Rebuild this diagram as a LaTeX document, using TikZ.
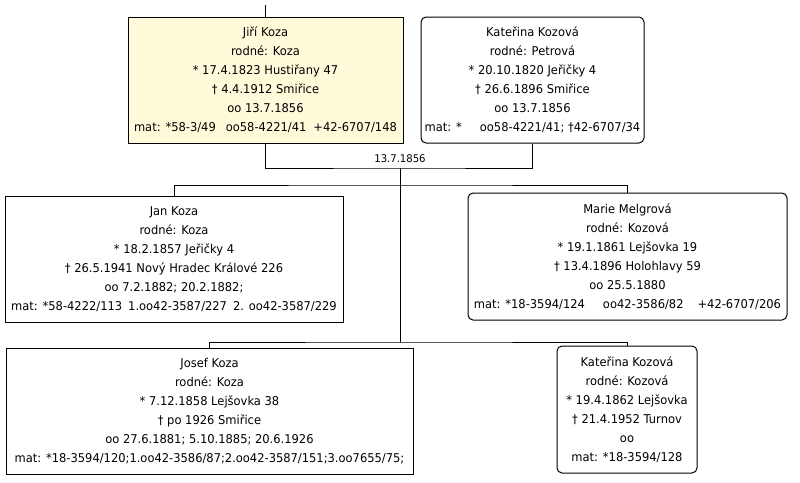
\documentclass[tikz,border=0pt]{standalone}
\usepackage{fontspec}
\setmainfont{DejaVu Sans}[FakeStretch=0.95]
\definecolor{boxyellow}{RGB}{255,251,218}
\newcommand\hgap[1]{\hspace{#1pt}}
\begin{document}
\begin{tikzpicture}[x=1pt,y=-1pt,
  box/.style={draw=black, line width=1pt, inner sep=0pt, align=center,
    font=\fontsize{12.1}{19}\selectfont, text=black},
  roundbox/.style={box, rounded corners=5pt},
  conn/.style={line width=1pt, draw=black},
  lbl/.style={font=\fontsize{10.6}{12}\selectfont, inner sep=0pt, text=black}]
\useasboundingbox (0,0) rectangle (800,482);
\fill[white] (0,0) rectangle (800,482);

\node[box, fill=boxyellow, minimum width=275pt, minimum height=126pt] (jiri) at (265.5,80)
 {Jiří Koza\\ rodné: Koza\\ * 17.4.1823 Hustiřany 47\\ † 4.4.1912 Smiřice\\ oo 13.7.1856\\
  mat: *58-3/49\hgap{10}oo58-4221/41\hgap{7}+42-6707/148};

\node[roundbox, minimum width=223pt, minimum height=126pt] (kat) at (532.5,80)
 {Kateřina Kozová\\ rodné: Petrová\\ * 20.10.1820 Jeřičky 4\\ † 26.6.1896 Smiřice\\ oo 13.7.1856\\
  mat: *\hgap{18}oo58-4221/41; †42-6707/34};

\node[box, minimum width=338pt, minimum height=126pt] (jan) at (174,259)
 {Jan Koza\\ rodné: Koza\\ * 18.2.1857 Jeřičky 4\\ † 26.5.1941 Nový Hradec Králové 226\\ oo 7.2.1882; 20.2.1882;\\
  mat: *58-4222/113\hgap{6}1.oo42-3587/227\hgap{6}2. oo42-3587/229};

\node[roundbox, minimum width=319pt, minimum height=127pt] (marie) at (627.5,256.5)
 {Marie Melgrová\\ rodné: Kozová\\ * 19.1.1861 Lejšovka 19\\ † 13.4.1896 Holohlavy 59\\ oo 25.5.1880\\
  mat: *18-3594/124\hgap{18}oo42-3586/82\hgap{14}+42-6707/206};

\node[box, minimum width=407pt, minimum height=126pt] (josef) at (209.5,411)
 {Josef Koza\\ rodné: Koza\\ * 7.12.1858 Lejšovka 38\\ † po 1926 Smiřice\\ oo 27.6.1881; 5.10.1885; 20.6.1926\\
  mat: *18-3594/120;1.oo42-3586/87;2.oo42-3587/151;3.oo7655/75;};

\node[roundbox, minimum width=140pt, minimum height=127pt] (kat2) at (627,409.5)
 {Kateřina Kozová\\ rodné: Kozová\\ * 19.4.1862 Lejšovka\\ † 21.4.1952 Turnov\\ oo\\
  mat: *18-3594/128};

\coordinate (top) at (265.5,5);
\coordinate (m) at (400,168);
\coordinate (c1) at (400,185);
\coordinate (c2) at (400,342);

\node[lbl] (date) at (400,159) {13.7.1856};

\draw[conn] (top) -- (jiri.north);
\draw[conn] (jiri.south) |- (m) -| (kat.south);
\draw[conn] (m) -- (c2);
\draw[conn] (jan.north) |- (c1) -| (marie.north);
\draw[conn] (josef.north) |- (c2) -| (kat2.north);
\end{tikzpicture}
\end{document}
